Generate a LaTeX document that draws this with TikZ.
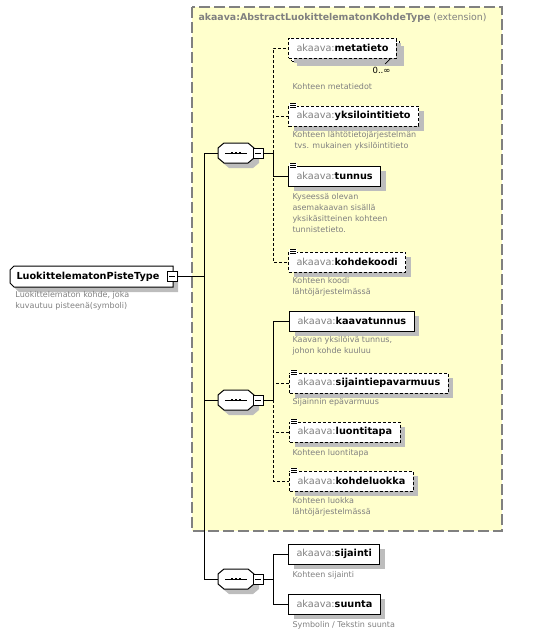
\documentclass[tikz,border=0pt]{standalone}
\usepackage{fontspec}
\setmainfont{DejaVu Sans}
\usetikzlibrary{positioning,shadows}

\definecolor{xsdyellow}{HTML}{FFFFCC}
\definecolor{xsdgray}{HTML}{808080}
\definecolor{xsdshadow}{HTML}{BDBDBD}

\newcommand{\ak}[1]{{\mdseries\color{xsdgray}akaava:}#1}
\newcommand{\simpleicon}[1]{%
  \fill[white] ([shift={(1,-3)}]#1.north west) rectangle ++(8,6);
  \foreach \k in {-2,0,2} \draw[line width=0.7pt] ([shift={(2,\k)}]#1.north west) -- ++(6,0);}

\tikzset{
  shade5/.style={drop shadow={shadow xshift=5pt, shadow yshift=-5pt, fill=xsdshadow, opacity=1}},
  elem/.style={draw, fill=white, shade5, minimum height=20pt, inner xsep=8pt, inner ysep=0pt,
    anchor=west, font=\fontsize{9.7}{11}\selectfont\bfseries},
  opt/.style={dash pattern=on 3pt off 2pt},
  desc/.style={anchor=north west, inner sep=0pt, align=left, text=xsdgray,
    font=\fontsize{8}{11}\selectfont},
  seq/.style={minimum width=35pt, minimum height=19pt, inner sep=0pt},
  pm/.style={draw, fill=white, minimum size=10pt, inner sep=0pt},
}

\begin{document}
\begin{tikzpicture}[x=1pt,y=-1pt,line width=1pt]
  \useasboundingbox (0,0) rectangle (544,637);

  % extension base
  \draw[draw=xsdgray, fill=xsdyellow, line width=1.5pt, dash pattern=on 11pt off 4pt] (192,7) rectangle (502,531);
  \node[anchor=west, inner sep=0pt, text=xsdgray, font=\fontsize{9.4}{11}\selectfont] (base) at (198,18)
    {\textbf{akaava:AbstractLuokittelematonKohdeType} (extension)};

  % root type
  \draw[fill=white, shade5] (173,266) -- (14,266) -- (10,270) -- (10,283) -- (14,287) -- (173,287) -- cycle;
  \node[anchor=west, minimum width=163pt, minimum height=21pt, inner xsep=6pt, inner ysep=0pt, align=left,
    font=\fontsize{9.7}{11}\selectfont\bfseries] (root) at (10,276.5) {LuokittelematonPisteType\hspace{13pt}};
  \node[pm] (rootpm) at (172,276.5) {\rule{6pt}{0.7pt}};
  \node[desc] (rootdesc) at (15,291) {Luokittelematon kohde, joka\\kuvautuu pisteenä(symboli)};

  % trunk
  \coordinate (tA) at (204,153);
  \coordinate (tB) at (204,400);
  \coordinate (tC) at (204,579);
  \draw (rootpm.east) -- (rootpm.east -| tA);
  \draw (tA) -- (tC);

  % sequences
  \foreach \s/\yy in {A/153, B/400, C/579} {
    \node[seq] (seq\s) at (236,\yy) {};
    \draw[fill=white, shade5] ([xshift=6pt]seq\s.north west) -- ([xshift=-6pt]seq\s.north east)
      -- ([yshift=-5pt]seq\s.north east) -- ([yshift=5pt]seq\s.south east)
      -- ([xshift=-6pt]seq\s.south east) -- ([xshift=6pt]seq\s.south west)
      -- ([yshift=5pt]seq\s.south west) -- ([yshift=-5pt]seq\s.north west) -- cycle;
    \node[pm] (seq\s pm) at (258,\yy) {\rule{6pt}{0.7pt}};
    \coordinate (b\s) at (273,\yy);
    \draw (t\s) -- (seq\s.west);
    \draw (seq\s pm.east) -- (b\s);
    \draw ([xshift=-11pt]seq\s.center) -- ([xshift=11pt]seq\s.center);
    \foreach \dx in {-4,0,4}
      \fill ([xshift=\dx pt]seq\s.center) +(-1.4,-1.4) rectangle +(1.4,1.4);
  }

  % first sequence
  \draw[opt] (bA) |- (288,48);
  \draw[opt] (bA) |- (288,116);
  \draw (bA) |- (288,176);
  \draw[opt] (bA) |- (288,262);

  \node[elem, opt] (metatietoB) at (291,51) {\phantom{\ak{metatieto}}};
  \node[elem, opt, drop shadow={opacity=0}] (metatieto) at (288,48) {\ak{metatieto}};
  \node[anchor=north east, inner sep=0pt, font=\fontsize{8.5}{10}\selectfont] (metamult) at (391,67) {0..∞};
  \draw[line width=0.7pt] (385,64) -- (391,58);
  \node[desc] (metatietodesc) at (292,83) {Kohteen metatiedot};

  \node[elem, opt] (yksilointitieto) at (288,116) {\ak{yksilointitieto}};
  \simpleicon{yksilointitieto}
  \node[desc] (yksilointitietodesc) at (292,131) {Kohteen lähtötietojärjestelmän\\\hspace{2pt}tvs. mukainen yksilöintitieto};

  \node[elem] (tunnus) at (288,176) {\ak{tunnus}};
  \simpleicon{tunnus}
  \node[desc] (tunnusdesc) at (292,193) {Kyseessä olevan\\asemakaavan sisällä\\yksikäsitteinen kohteen\\tunnistetieto.};

  \node[elem, opt] (kohdekoodi) at (288,262) {\ak{kohdekoodi}};
  \simpleicon{kohdekoodi}
  \node[desc] (kohdekoodidesc) at (292,277) {Kohteen koodi\\lähtöjärjestelmässä};

  % second sequence
  \draw (bB) |- (289,321);
  \draw[opt] (bB) |- (289,383);
  \draw[opt] (bB) |- (289,432);
  \draw[opt] (bB) |- (289,481);

  \node[elem] (kaavatunnus) at (289,321) {\ak{kaavatunnus}};
  \node[desc] (kaavatunnusdesc) at (292,336) {Kaavan yksilöivä tunnus,\\johon kohde kuuluu};

  \node[elem, opt] (sijaintiepavarmuus) at (289,383) {\ak{sijaintiepavarmuus}};
  \simpleicon{sijaintiepavarmuus}
  \node[desc] (sijaintiepavarmuusdesc) at (292,398) {Sijainnin epävarmuus};

  \node[elem, opt] (luontitapa) at (289,432) {\ak{luontitapa}};
  \simpleicon{luontitapa}
  \node[desc] (luontitapadesc) at (292,449) {Kohteen luontitapa};

  \node[elem, opt] (kohdeluokka) at (289,481) {\ak{kohdeluokka}};
  \simpleicon{kohdeluokka}
  \node[desc] (kohdeluokkadesc) at (292,497) {Kohteen luokka\\lähtöjärjestelmässä};

  % third sequence
  \draw (bC) |- (288,554);
  \draw (bC) |- (288,604);

  \node[elem] (sijainti) at (288,554) {\ak{sijainti}};
  \node[desc] (sijaintidesc) at (292,571) {Kohteen sijainti};

  \node[elem] (suunta) at (288,604) {\ak{suunta}};
  \node[desc] (suuntadesc) at (292,621) {Symbolin / Tekstin suunta};
\end{tikzpicture}
\end{document}
